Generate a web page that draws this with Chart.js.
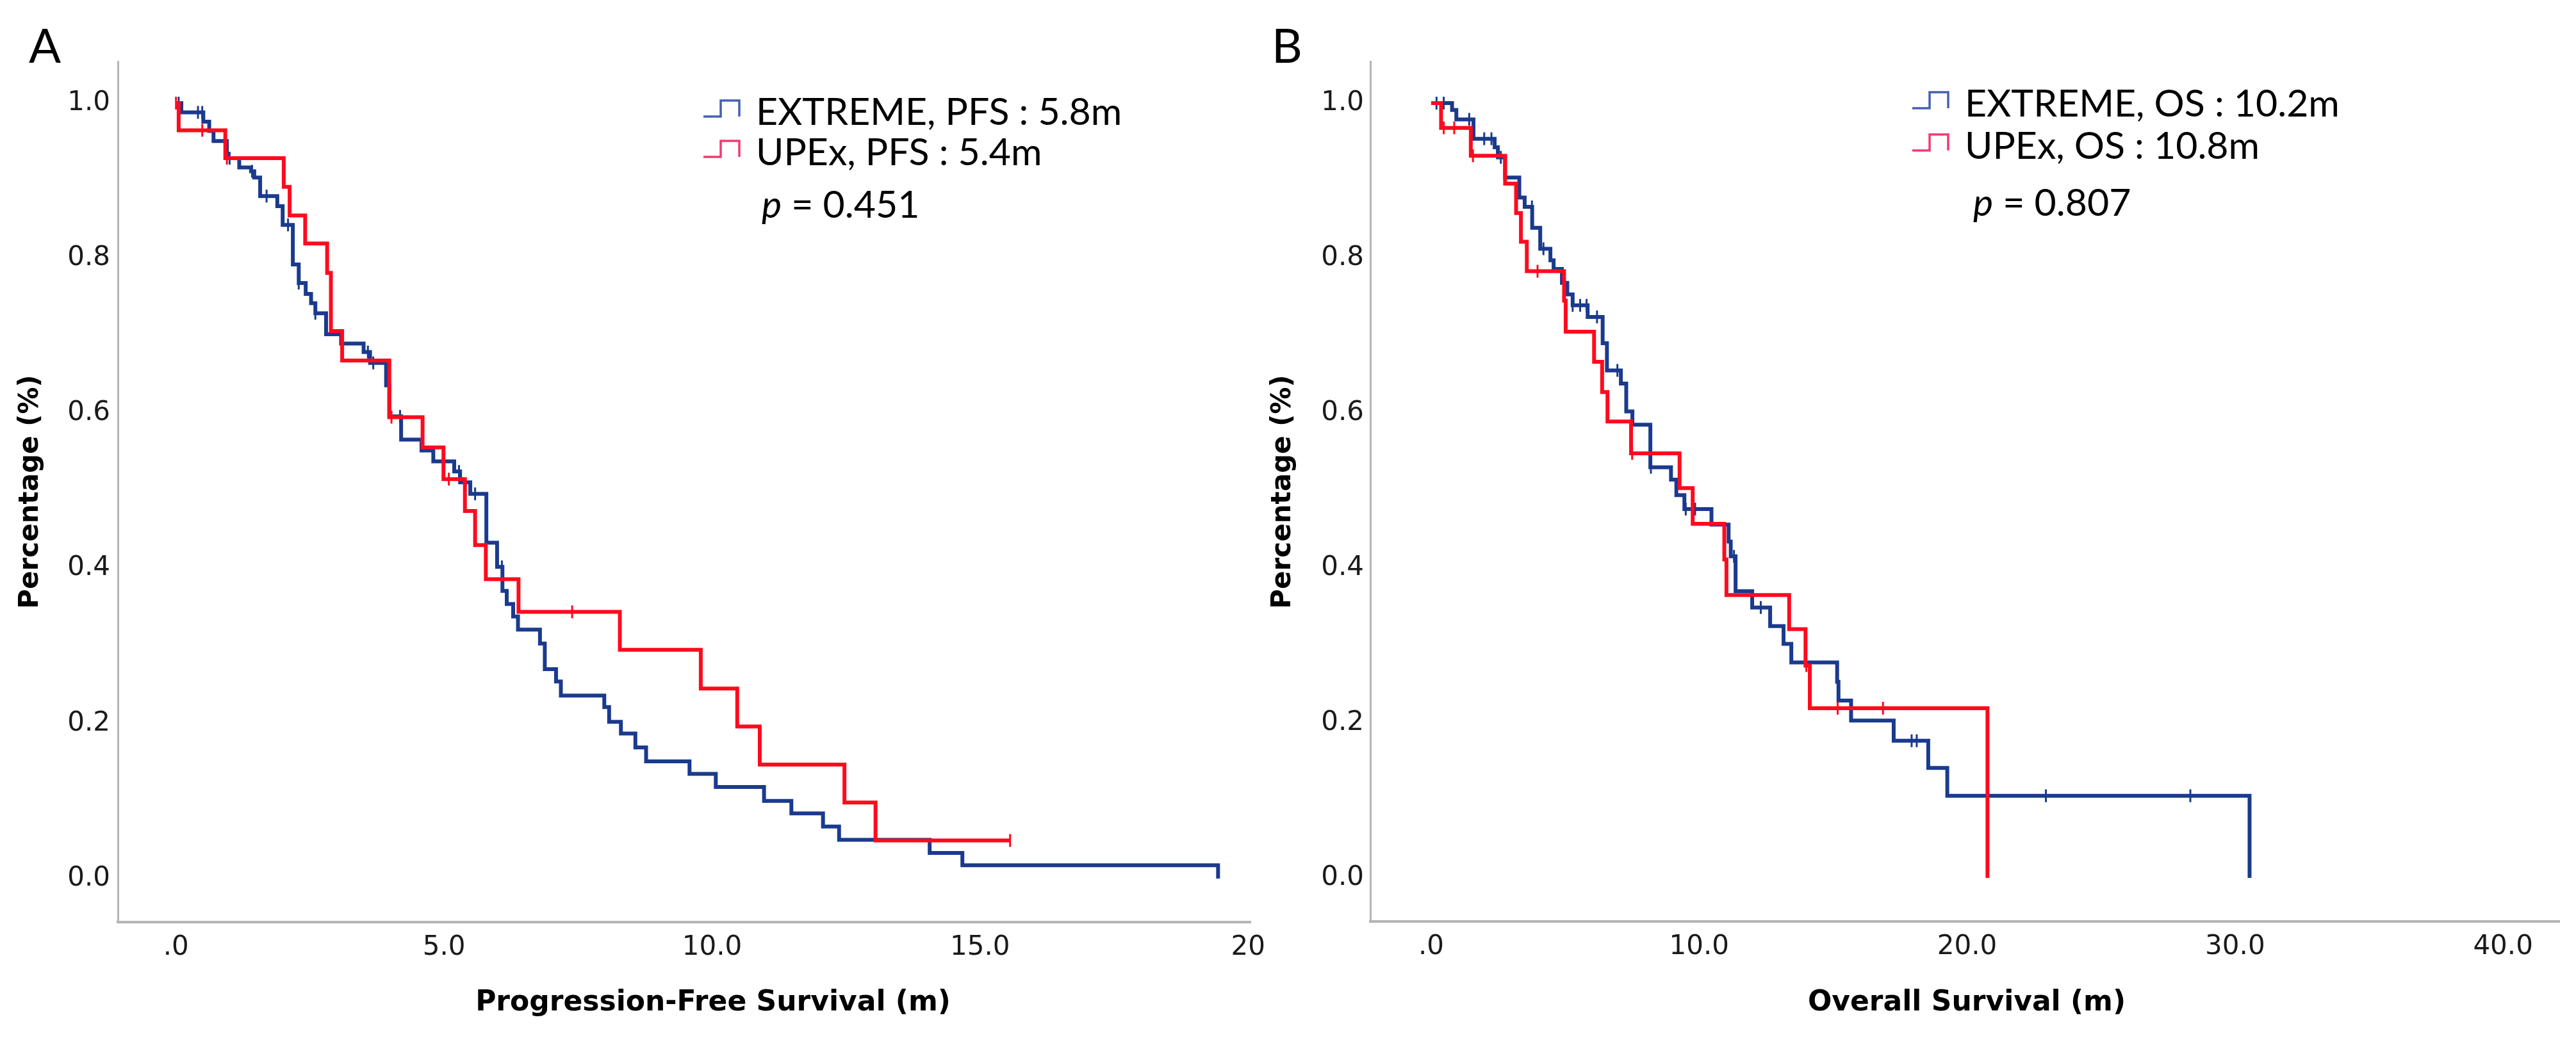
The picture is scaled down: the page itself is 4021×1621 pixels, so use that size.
<!DOCTYPE html>
<html>
<head>
<meta charset="utf-8">
<script src="https://cdn.jsdelivr.net/npm/chart.js@4.4.1/dist/chart.umd.min.js"></script>
<style>
  html, body { margin: 0; padding: 0; background: #fff; }
  #wrap { position: relative; width: 4021px; height: 1621px; overflow: hidden; background: #fff; }
  .cv { position: absolute; top: 0; }
</style>
</head>
<body>
<div id="wrap">
  <canvas id="cA" class="cv" width="1990" height="1621" style="left:0;width:1990px;height:1621px"></canvas>
  <canvas id="cB" class="cv" width="2071" height="1621" style="left:1950px;width:2071px;height:1621px"></canvas>
</div>
<script>
// ---------------- DATA ----------------
// Panel A : Progression-Free Survival (months) – Kaplan-Meier step points
const pfsTimeExtreme = [0, 0.10, 0.51, 0.62, 0.70, 0.95, 1.18, 1.40, 1.46, 1.57, 1.89, 1.99, 2.18, 2.29, 2.42, 2.52, 2.60, 2.80, 3.08, 3.50, 3.62, 3.92, 3.98, 4.20, 4.58, 4.80, 5.19, 5.30, 5.49, 5.79, 5.99, 6.09, 6.17, 6.29, 6.38, 6.79, 6.88, 7.09, 7.18, 7.99, 8.08, 8.30, 8.57, 8.77, 9.58, 10.07, 10.97, 11.48, 12.07, 12.37, 14.06, 14.67, 19.44];
const pfsSurvExtreme = [1.000, 0.988, 0.976, 0.964, 0.951, 0.929, 0.917, 0.912, 0.904, 0.880, 0.867, 0.843, 0.792, 0.768, 0.754, 0.742, 0.729, 0.702, 0.690, 0.679, 0.665, 0.636, 0.596, 0.566, 0.552, 0.538, 0.525, 0.511, 0.496, 0.433, 0.402, 0.371, 0.354, 0.338, 0.321, 0.303, 0.270, 0.254, 0.236, 0.221, 0.202, 0.187, 0.169, 0.151, 0.135, 0.118, 0.100, 0.084, 0.067, 0.050, 0.033, 0.017, 0.000];
const pfsCensorExtreme = [0.05, 0.41, 0.49, 1.00, 1.42, 1.69, 2.09, 2.29, 2.60, 3.58, 3.68, 4.18, 5.28, 5.58, 6.08];

const pfsTimeUpex = [0, 0.05, 0.92, 2.01, 2.12, 2.41, 2.82, 2.89, 3.10, 3.98, 4.60, 4.99, 5.39, 5.58, 5.78, 6.39, 8.28, 9.79, 10.47, 10.89, 12.47, 13.05, 15.56];
const pfsSurvUpex = [1.000, 0.965, 0.929, 0.892, 0.855, 0.819, 0.781, 0.706, 0.668, 0.595, 0.556, 0.515, 0.474, 0.430, 0.386, 0.344, 0.295, 0.245, 0.196, 0.147, 0.098, 0.049, 0.049];
const pfsCensorUpex = [0.0, 0.49, 0.95, 4.02, 5.09, 7.39, 15.56];

// Panel B : Overall Survival (months)
const osTimeExtreme = [0, 0.78, 0.94, 1.58, 2.37, 2.49, 2.76, 3.29, 3.49, 3.77, 4.07, 4.45, 4.57, 4.88, 5.08, 5.28, 5.84, 6.40, 6.56, 7.08, 7.28, 7.51, 8.18, 8.95, 9.15, 9.45, 10.46, 11.10, 11.18, 11.36, 11.98, 12.65, 13.15, 13.44, 15.15, 15.20, 15.67, 17.26, 18.55, 19.26, 30.54];
const osSurvExtreme = [1.000, 0.991, 0.979, 0.954, 0.943, 0.930, 0.904, 0.878, 0.866, 0.839, 0.812, 0.797, 0.786, 0.768, 0.753, 0.739, 0.724, 0.690, 0.655, 0.638, 0.602, 0.585, 0.530, 0.514, 0.494, 0.476, 0.456, 0.434, 0.415, 0.370, 0.349, 0.325, 0.302, 0.278, 0.253, 0.229, 0.203, 0.177, 0.142, 0.106, 0.000];
const osCensorExtreme = [0.20, 0.47, 1.42, 1.98, 2.25, 2.60, 3.76, 4.19, 5.28, 5.56, 5.80, 6.19, 6.95, 8.20, 9.50, 9.85, 11.30, 12.30, 17.93, 18.12, 22.94, 28.33];

const osTimeUpex = [0, 0.37, 1.48, 2.76, 3.17, 3.35, 3.57, 4.96, 5.02, 6.08, 6.38, 6.58, 7.46, 9.27, 9.76, 10.94, 11.02, 13.36, 13.97, 14.13, 20.76];
const osSurvUpex = [1.000, 0.968, 0.932, 0.896, 0.858, 0.821, 0.783, 0.745, 0.705, 0.666, 0.627, 0.589, 0.548, 0.503, 0.457, 0.411, 0.365, 0.321, 0.274, 0.219, 0.000];
const osCensorUpex = [0.47, 0.86, 1.56, 3.97, 7.50, 14.00, 15.17, 16.86];

// Tick values and labels
const yTickValues = [0, 0.2, 0.4, 0.6, 0.8, 1.0];
const yTickLabels = ['0.0', '0.2', '0.4', '0.6', '0.8', '1.0'];
const pfsXTickValues = [0, 5, 10, 15, 20];
const pfsXTickLabels = ['.0', '5.0', '10.0', '15.0', '20'];
const osXTickValues = [0, 10, 20, 30, 40];
const osXTickLabels = ['.0', '10.0', '20.0', '30.0', '40.0'];

// Texts
const pfsLegend = ['EXTREME, PFS : 5.8m', 'UPEx, PFS : 5.4m'];
const osLegend = ['EXTREME, OS : 10.2m', 'UPEx, OS : 10.8m'];
const pfsPValue = '0.451';
const osPValue = '0.807';
const yTitle = 'Percentage (%)';
const pfsXTitle = 'Progression-Free Survival (m)';
const osXTitle = 'Overall Survival (m)';

// ---------------- STYLE ----------------
const BLUE = '#1a3a8e';
const RED = '#ff0a1e';
const BLUE_ICON = '#4660b0';
const RED_ICON = '#f23a70';
const TICK_FONT = '"DejaVu Sans", Verdana, sans-serif';
const TEXT_FONT = 'Lato, "Open Sans", sans-serif';

function toPoints(times, surv) {
  return times.map((t, i) => ({ x: t, y: surv[i] }));
}
function survAt(times, surv, t) {
  let s = surv[0];
  for (let i = 0; i < times.length; i++) { if (times[i] <= t) s = surv[i]; }
  return s;
}
function censorPoints(censor, times, surv) {
  return censor.map(t => ({ x: t, y: survAt(times, surv, t) }));
}

const annotPlugin = {
  id: 'annot',
  afterDraw(chart, args, o) {
    const ctx = chart.ctx;
    ctx.save();
    ctx.fillStyle = '#000';
    // panel letter
    ctx.textAlign = 'left';
    ctx.textBaseline = 'alphabetic';
    ctx.font = '400 74px ' + TEXT_FONT;
    ctx.fillText(o.letter, o.letterX, 98);
    // y title
    ctx.save();
    ctx.translate(o.yTitleX, 768);
    ctx.rotate(-Math.PI / 2);
    ctx.textAlign = 'center';
    ctx.textBaseline = 'middle';
    ctx.font = 'bold 42px ' + TICK_FONT;
    ctx.fillText(yTitle, 0, 0);
    ctx.restore();
    // x title
    ctx.textAlign = 'center';
    ctx.textBaseline = 'alphabetic';
    ctx.font = 'bold 44px ' + TICK_FONT;
    ctx.fillText(o.xTitle, o.xTitleX, 1578);
    // legend
    ctx.textAlign = 'left';
    ctx.font = '400 59px ' + TEXT_FONT;
    o.legend.forEach((txt, i) => {
      const tx = o.legendX, bl = o.legendY[i];
      ctx.strokeStyle = i === 0 ? BLUE_ICON : RED_ICON;
      ctx.lineWidth = 3.5;
      ctx.beginPath();
      ctx.moveTo(tx - 82, bl - 13);
      ctx.lineTo(tx - 55, bl - 13);
      ctx.lineTo(tx - 55, bl - 38);
      ctx.lineTo(tx - 26, bl - 38);
      ctx.lineTo(tx - 26, bl - 13);
      ctx.stroke();
      ctx.fillText(txt, tx, bl);
    });
    // p value
    ctx.font = 'italic 400 59px ' + TEXT_FONT;
    ctx.fillText('p', o.pX, o.pY);
    const pw = ctx.measureText('p').width;
    ctx.font = '400 59px ' + TEXT_FONT;
    ctx.fillText(' = ' + o.pValue, o.pX + pw, o.pY);
    ctx.restore();
  }
};

function makeChart(canvasId, cfg) {
  const datasets = [
    { label: 'UPEx censored', data: censorPoints(cfg.cU, cfg.tU, cfg.sU), showLine: false,
      pointStyle: 'line', rotation: 90, pointRadius: 10, pointBorderWidth: 3, borderColor: RED, backgroundColor: RED },
    { label: 'UPEx', data: toPoints(cfg.tU, cfg.sU), stepped: true, borderColor: RED, borderWidth: 6,
      pointRadius: 0, fill: false, tension: 0 },
    { label: 'EXTREME censored', data: censorPoints(cfg.cE, cfg.tE, cfg.sE), showLine: false,
      pointStyle: 'line', rotation: 90, pointRadius: 10, pointBorderWidth: 3, borderColor: BLUE, backgroundColor: BLUE },
    { label: 'EXTREME', data: toPoints(cfg.tE, cfg.sE), stepped: true, borderColor: BLUE, borderWidth: 6,
      pointRadius: 0, fill: false, tension: 0 }
  ];
  return new Chart(document.getElementById(canvasId), {
    type: 'line',
    data: { datasets },
    plugins: [annotPlugin],
    options: {
      responsive: false,
      animation: false,
      devicePixelRatio: 1,
      layout: { padding: { left: 0, top: 96, right: cfg.padRight, bottom: 0 } },
      plugins: {
        legend: { display: false },
        tooltip: { enabled: false },
        annot: cfg.annot
      },
      scales: {
        x: {
          type: 'linear',
          min: cfg.xMin, max: cfg.xMax,
          grid: { display: false, drawTicks: false },
          border: { display: true, color: '#b5b5b5', width: 4 },
          afterBuildTicks: s => { s.ticks = cfg.xTicks.map(v => ({ value: v })); },
          afterFit: s => { s.height = cfg.xHeight; },
          ticks: {
            autoSkip: false, maxRotation: 0, padding: 15, color: '#1a1a1a',
            font: { family: TICK_FONT, size: 42 },
            callback: (v, i) => cfg.xLabels[i]
          }
        },
        y: {
          type: 'linear',
          min: -0.0562, max: 1.0537,
          grid: { display: false, drawTicks: false },
          border: { display: true, color: '#b5b5b5', width: 3 },
          afterBuildTicks: s => { s.ticks = yTickValues.map(v => ({ value: v })); },
          afterFit: s => { s.width = cfg.yWidth; },
          ticks: {
            autoSkip: false, padding: cfg.yPad, color: '#1a1a1a',
            font: { family: TICK_FONT, size: 42 },
            callback: (v, i) => yTickLabels[i]
          }
        }
      }
    }
  });
}

makeChart('cA', {
  tE: pfsTimeExtreme, sE: pfsSurvExtreme, cE: pfsCensorExtreme,
  tU: pfsTimeUpex, sU: pfsSurvUpex, cU: pfsCensorUpex,
  xMin: -1.084, xMax: 20.05, xTicks: pfsXTickValues, xLabels: pfsXTickLabels,
  padRight: 32, yWidth: 184, xHeight: 181, yPad: 12,
  annot: { letter: 'A', letterX: 45, yTitleX: 48, xTitle: pfsXTitle, xTitleX: 1113,
           legend: pfsLegend, legendX: 1180, legendY: [195, 258], pX: 1189, pY: 340, pValue: pfsPValue }
});

makeChart('cB', {
  tE: osTimeExtreme, sE: osSurvExtreme, cE: osCensorExtreme,
  tU: osTimeUpex, sU: osSurvUpex, cU: osCensorUpex,
  xMin: -2.27, xMax: 42.10, xTicks: osXTickValues, xLabels: osXTickLabels,
  padRight: 26, yWidth: 189, xHeight: 182, yPad: 10,
  annot: { letter: 'B', letterX: 35, yTitleX: 53, xTitle: osXTitle, xTitleX: 1120,
           legend: osLegend, legendX: 1117, legendY: [182, 248], pX: 1130, pY: 337, pValue: osPValue }
});
</script>
</body>
</html>
